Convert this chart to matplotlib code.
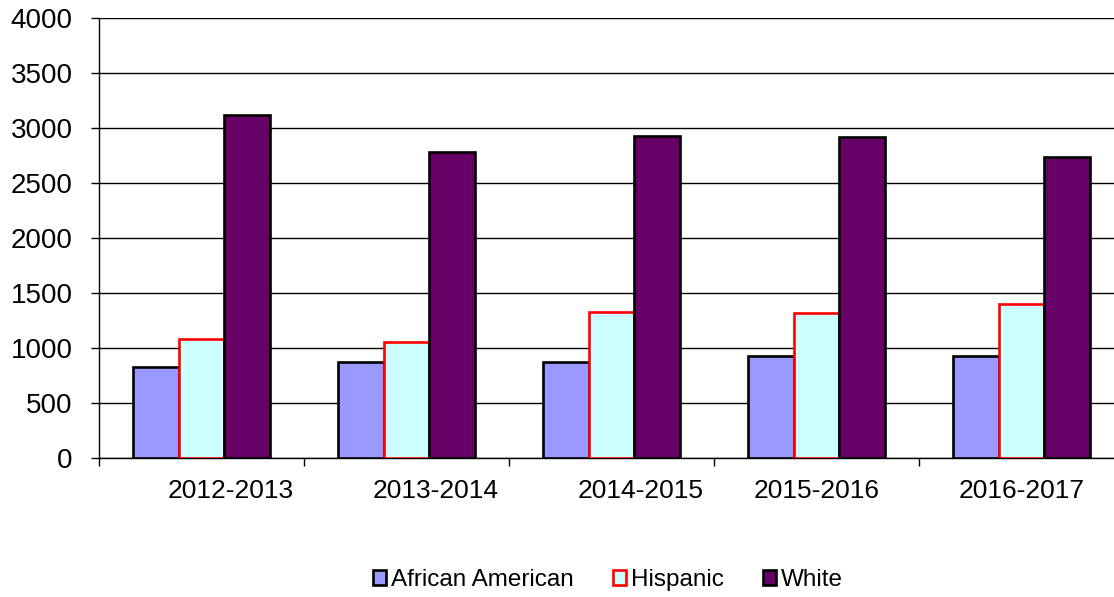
import matplotlib
matplotlib.use("Agg")
import matplotlib.pyplot as plt
import matplotlib.transforms as mtransforms
import numpy as np

plt.rcParams['font.family'] = ['Liberation Sans', 'DejaVu Sans']

categories = ["2012-2013", "2013-2014", "2014-2015", "2015-2016", "2016-2017"]
african_american = [833, 873, 879, 933, 927]
hispanic = [1088, 1055, 1330, 1321, 1400]
white = [3121, 2782, 2930, 2918, 2739]
series_names = ["African American", "Hispanic", "White"]
yticks = [0, 500, 1000, 1500, 2000, 2500, 3000, 3500, 4000]

fig = plt.figure(figsize=(11.14, 5.97), dpi=100)
ax = fig.add_axes([99/1114, 1 - 458.3/597, 1025/1114, (458.3 - 18)/597])

x = np.arange(len(categories))
w = 0.222
face = ["#9999FF", "#CCFFFF", "#660066"]
edge = ["black", "red", "black"]
for k, (vals, name) in enumerate(zip([african_american, hispanic, white], series_names)):
    ax.bar(x + (k - 1) * w, vals, width=w, color=face[k], edgecolor=edge[k],
           linewidth=1.9, label=name, zorder=3)

ax.set_xlim(-0.5, len(categories) - 0.5)
ax.set_ylim(0, 4000)
ax.set_yticks(yticks)
ax.set_yticklabels([str(v) for v in yticks])
ax.yaxis.grid(True, color="black", linewidth=1.0, zorder=0)
ax.set_axisbelow(True)

for s in ["top", "right"]:
    ax.spines[s].set_visible(False)
ax.spines["left"].set_linewidth(1.0)
ax.spines["bottom"].set_linewidth(1.0)

ax.tick_params(axis="y", direction="out", length=6, width=1, labelsize=20, pad=13)
ax.set_xticks(x)
ax.set_xticklabels(categories)
ax.set_xticks(np.arange(-0.5, len(categories) + 0.5, 1), minor=True)
ax.tick_params(axis="x", which="major", length=0, labelsize=19, pad=15)
ax.tick_params(axis="x", which="minor", direction="out", length=5.5, width=1)

# Excel-like label placement: first three labels shifted right
shifts_px = [29, 29, 29, 0, 0]
for lab, dx in zip(ax.get_xticklabels(), shifts_px):
    lab.set_transform(lab.get_transform() + mtransforms.ScaledTranslation(dx / 100, 0, fig.dpi_scale_trans))

leg = fig.legend(loc="center", bbox_to_anchor=(608/1114, 1 - 580/597), ncol=3, frameon=False,
                 fontsize=17.5, handlelength=0.55, handleheight=0.55, handletextpad=0.2,
                 columnspacing=1.6)

fig.savefig("out.png", dpi=100)
